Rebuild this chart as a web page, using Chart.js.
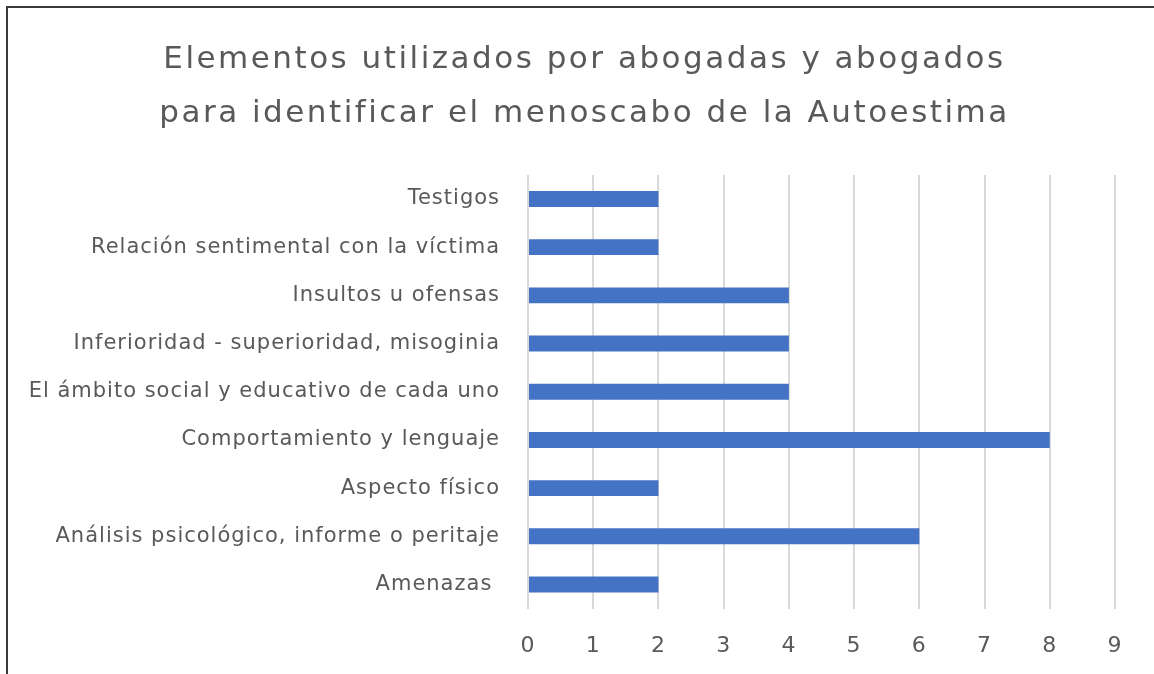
<!DOCTYPE html>
<html>
<head>
<meta charset="utf-8">
<script src="https://cdn.jsdelivr.net/npm/chart.js@4"></script>
<style>
  html, body { margin: 0; padding: 0; background: #fff; }
  #marco { position: absolute; left: 6px; top: 6px; width: 1148px; height: 668px;
           border-left: 2px solid #3a3a3a; border-top: 2px solid #3a3a3a; box-sizing: border-box; }
  #lienzo { position: absolute; left: 0; top: 0; width: 1154px; height: 674px; }
</style>
</head>
<body>
<div id="marco"></div>
<div id="lienzo"><canvas id="grafico" width="1154" height="674"></canvas></div>
<script>
// datos (de arriba hacia abajo)
var categorias = [
  "Testigos",
  "Relación sentimental con la víctima",
  "Insultos u ofensas",
  "Inferioridad - superioridad, misoginia",
  "El ámbito social y educativo de cada uno",
  "Comportamiento y lenguaje",
  "Aspecto físico",
  "Análisis psicológico, informe o peritaje",
  "Amenazas "
];
var valores = [2, 2, 4, 4, 4, 8, 2, 6, 2];
var ejeMin = 0, ejeMax = 9, ejePaso = 1;
var titulo = ["Elementos utilizados por abogadas y abogados", "para identificar el menoscabo de la Autoestima"];

var gris = '#595959';
var fuente = '"DejaVu Sans", sans-serif';

// el texto del original es mas ancho: se separan un poco las letras
// y el titulo va centrado en todo el recuadro, no solo en el area del grafico
var espaciado = {
  id: 'espaciado',
  afterInit: function(chart) {
    var dibujoTitulo = chart.titleBlock.draw;
    chart.titleBlock.draw = function() {
      var c = this.ctx;
      c.save();
      c.letterSpacing = '2.5px';
      c.translate(27, 0);
      dibujoTitulo.apply(this, arguments);
      c.restore();
    };
  },
  beforeDraw: function(chart) {
    chart.ctx.letterSpacing = '1px';
  }
};

var ctx = document.getElementById("grafico").getContext('2d');
var chart = new Chart(ctx, {
  type: 'bar',
  data: {
    labels: categorias,
    datasets: [{
      data: valores,
      backgroundColor: '#4472C4',
      borderWidth: 0,
      barPercentage: 0.33,
      categoryPercentage: 1
    }]
  },
  plugins: [espaciado],
  options: {
    indexAxis: 'y',
    responsive: false,
    animation: false,
    layout: { padding: { top: 33, right: 39, bottom: -9, left: 0 } },
    plugins: {
      legend: { display: false },
      tooltip: { enabled: false },
      title: {
        display: true,
        text: titulo,
        color: gris,
        font: { family: fuente, size: 31, weight: 'normal', lineHeight: 1.74 },
        padding: { top: 0, bottom: 34 }
      }
    },
    scales: {
      x: {
        min: ejeMin, max: ejeMax,
        border: { display: false },
        grid: { color: '#D9D9D9', lineWidth: 2, drawTicks: false },
        ticks: { stepSize: ejePaso, color: gris, padding: 24, font: { family: fuente, size: 22 } }
      },
      y: {
        border: { display: false },
        grid: { display: false, drawTicks: false },
        ticks: { color: gris, padding: 28, font: { family: fuente, size: 21 } },
        afterFit: function(scale) { scale.width = 528; }
      }
    }
  }
});
</script>
</body>
</html>
